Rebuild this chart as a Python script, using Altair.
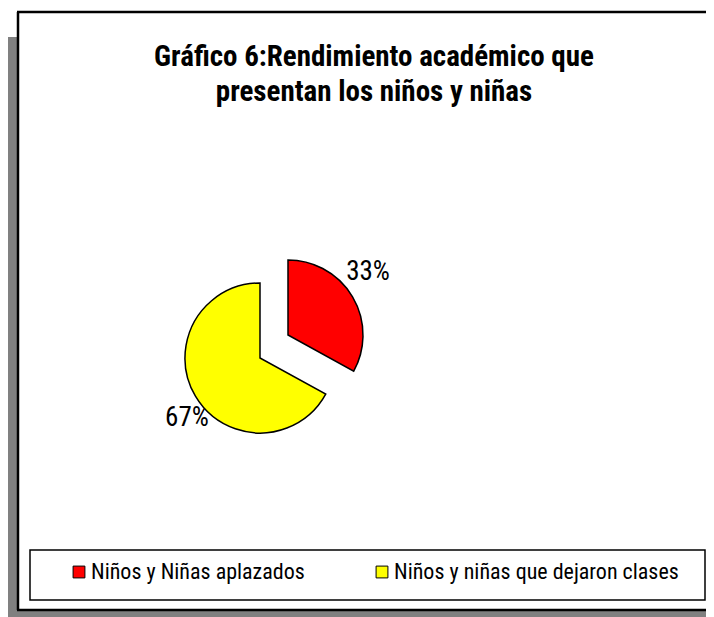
import altair as alt
import pandas as pd

categories = ["Niños y Niñas aplazados", "Niños y niñas que dejaron clases"]
values = [33, 67]
colors = ["#FF0000", "#FFFF00"]
title_lines = ["Gráfico 6:Rendimiento académico que", "presentan los niños y niñas"]

FONT = "Roboto Condensed, Archivo Narrow, PT Sans Narrow, Liberation Sans, sans-serif"
W, H = 698, 609
R = 75
centers = [(280, 327), (252, 350)]
label_shift = [(-6, -12), (13, 9)]

df = pd.DataFrame({"cat": categories, "value": values, "order": list(range(len(values)))})
one = pd.DataFrame({"a": [0]})

base = (
    alt.Chart(df)
    .transform_joinaggregate(total="sum(value)")
    .transform_window(cum="sum(value)", sort=[alt.SortField("order")], frame=[None, 0])
    .transform_calculate(
        start="(datum.cum - datum.value) / datum.total * 2 * PI",
        end="datum.cum / datum.total * 2 * PI",
        mid="(datum.cum - datum.value / 2) / datum.total * 2 * PI",
        label="format(datum.value / datum.total, '.0%')",
    )
)

legend = alt.Legend(
    orient="none", legendX=60, legendY=553, direction="horizontal", title=None,
    symbolType="square", symbolSize=140, symbolStrokeColor="black", symbolStrokeWidth=1,
    labelFont=FONT, labelFontSize=22, labelColor="black", labelLimit=0,
    columnPadding=66, labelOffset=1, padding=0,
)
color = alt.Color("cat:N", scale=alt.Scale(domain=categories, range=colors), legend=legend)

shadow = alt.Chart(one).mark_rect(fill="#808080").encode(
    x=alt.value(0), x2=alt.value(720), y=alt.value(29), y2=alt.value(620))
frame = alt.Chart(one).mark_rect(fill="white").encode(
    x=alt.value(10), x2=alt.value(730), y=alt.value(4), y2=alt.value(602))
edge_top = alt.Chart(one).mark_rule(color="black", strokeWidth=2.5).encode(
    x=alt.value(9), x2=alt.value(730), y=alt.value(4))
edge_left = alt.Chart(one).mark_rule(color="black", strokeWidth=2.5).encode(
    x=alt.value(10), y=alt.value(4), y2=alt.value(602))
edge_bottom = alt.Chart(one).mark_rule(color="black", strokeWidth=2.5).encode(
    x=alt.value(9), x2=alt.value(730), y=alt.value(602))
lbox = alt.Chart(one).mark_rect(fill="white", stroke="black", strokeWidth=1.5).encode(
    x=alt.value(22), x2=alt.value(697), y=alt.value(542), y2=alt.value(592))

t1 = alt.Chart(one).mark_text(font=FONT, fontSize=29, fontWeight="bold", align="center", color="black").encode(
    x=alt.value(366), y=alt.value(49), text=alt.value(title_lines[0]))
t2 = alt.Chart(one).mark_text(font=FONT, fontSize=29, fontWeight="bold", align="center", color="black").encode(
    x=alt.value(366), y=alt.value(84), text=alt.value(title_lines[1]))

layers = [shadow, frame, edge_top, edge_left, edge_bottom, lbox, t1, t2]
for i, cat in enumerate(categories):
    cx, cy = centers[i]
    dx, dy = label_shift[i]
    sl = base.transform_filter(alt.datum.cat == cat)
    layers.append(
        sl.mark_arc(outerRadius=R, stroke="black", strokeWidth=1.5).encode(
            theta=alt.Theta("start:Q", scale=None), theta2="end:Q",
            color=color, x=alt.value(cx), y=alt.value(cy))
    )
    layers.append(
        sl.mark_text(font=FONT, fontSize=27, color="black", dx=dx, dy=dy).encode(
            theta=alt.Theta("mid:Q", scale=None), radius=alt.value(100),
            text="label:N", x=alt.value(cx), y=alt.value(cy))
    )

chart = alt.layer(*layers).properties(
    width=W, height=H, padding=0, autosize="none"
).configure_view(stroke=None)

chart.save("out.html", embed_options={"renderer": "svg", "actions": False})
